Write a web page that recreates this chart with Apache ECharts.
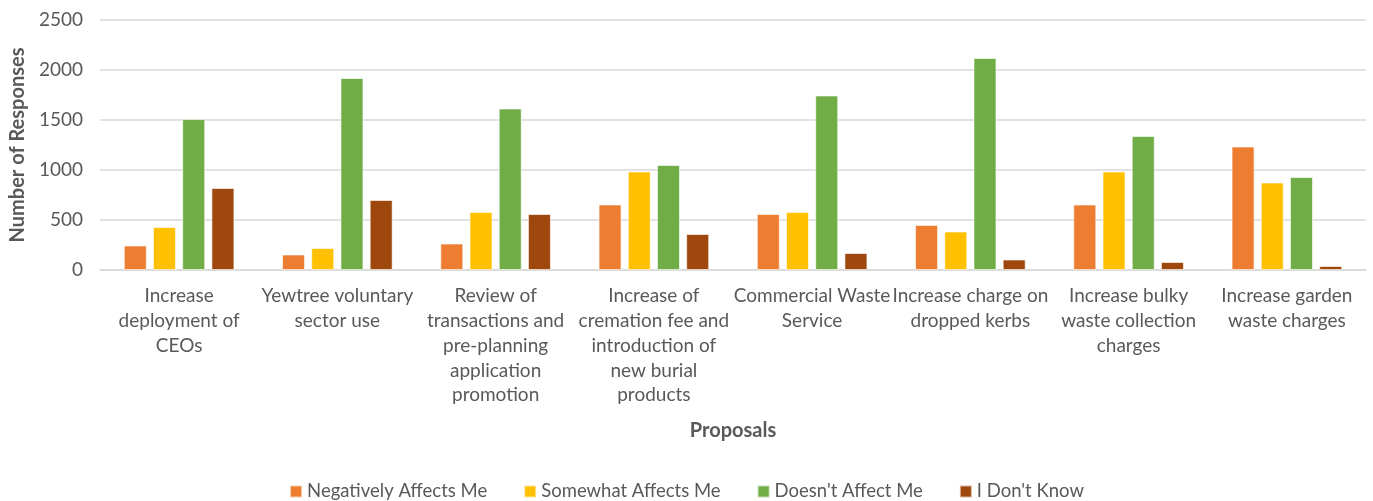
<!DOCTYPE html>
<html>
<head>
<meta charset="utf-8">
<script src="https://cdn.jsdelivr.net/npm/echarts@6/dist/echarts.min.js"></script>
<style>html,body{margin:0;padding:0;background:#fff}#c{width:1373px;height:501px}</style>
</head>
<body>
<div id="c"></div>
<script>
const categories = [
  "Increase\ndeployment of\nCEOs",
  "Yewtree voluntary\nsector use",
  "Review of\ntransactions and\npre-planning\napplication\npromotion",
  "Increase of\ncremation fee and\nintroduction of\nnew burial\nproducts",
  "Commercial Waste\nService",
  "Increase charge on\ndropped kerbs",
  "Increase bulky\nwaste collection\ncharges",
  "Increase garden\nwaste charges"
];
const seriesNames = ["Negatively Affects Me", "Somewhat Affects Me", "Doesn't Affect Me", "I Don't Know"];
const negatively = [245, 155, 265, 655, 560, 450, 655, 1235];
const somewhat   = [430, 220, 580, 985, 580, 385, 985, 875];
const doesnt     = [1510, 1920, 1615, 1050, 1745, 2120, 1340, 930];
const dontKnow   = [820, 700, 560, 360, 170, 105, 80, 40];
const yTicks = [0, 500, 1000, 1500, 2000, 2500];
const colors = ["#ED7D31", "#FFC000", "#70AD47", "#9E480E"];

const values = [negatively, somewhat, doesnt, dontKnow];
const font = "Lato, 'Open Sans', sans-serif";
const chart = echarts.init(document.getElementById('c'), null, {renderer: 'canvas'});
chart.setOption({
  animation: false,
  color: colors,
  textStyle: {fontFamily: font},
  grid: {left: 97, right: 7, top: 20, bottom: 231, containLabel: false},
  legend: {
    data: seriesNames,
    top: 477,
    left: 'center',
    itemWidth: 12, itemHeight: 12, itemGap: 36,
    icon: 'rect',
    textStyle: {fontFamily: font, fontSize: 18.5, color: '#595959'}
  },
  xAxis: {
    type: 'category',
    data: categories,
    name: 'Proposals',
    nameLocation: 'middle',
    nameGap: 151,
    nameTextStyle: {fontFamily: font, fontSize: 20, fontWeight: 'bold', color: '#595959'},
    axisLine: {show: true, lineStyle: {color: '#D9D9D9', width: 1.5}},
    axisTick: {show: false},
    axisLabel: {interval: 0, margin: 14, fontFamily: font, fontSize: 19, lineHeight: 24.7, color: '#595959'}
  },
  yAxis: {
    type: 'value',
    min: yTicks[0], max: yTicks[yTicks.length - 1], interval: 500,
    name: 'Number of Responses',
    nameLocation: 'middle',
    nameGap: 70,
    nameRotate: 90,
    nameTextStyle: {fontFamily: font, fontSize: 20, fontWeight: 'bold', color: '#595959'},
    axisLine: {show: false},
    axisTick: {show: false},
    axisLabel: {margin: 17, fontFamily: font, fontSize: 19, color: '#595959', formatter: v => String(v)},
    splitLine: {lineStyle: {color: '#D9D9D9', width: 1.5}}
  },
  series: seriesNames.map((n, i) => ({
    name: n,
    type: 'bar',
    data: values[i],
    barWidth: 23,
    barGap: '27%',
    itemStyle: {color: colors[i], borderColor: 'rgba(255,255,255,0.6)', borderWidth: 1}
  }))
});
</script>
</body>
</html>
